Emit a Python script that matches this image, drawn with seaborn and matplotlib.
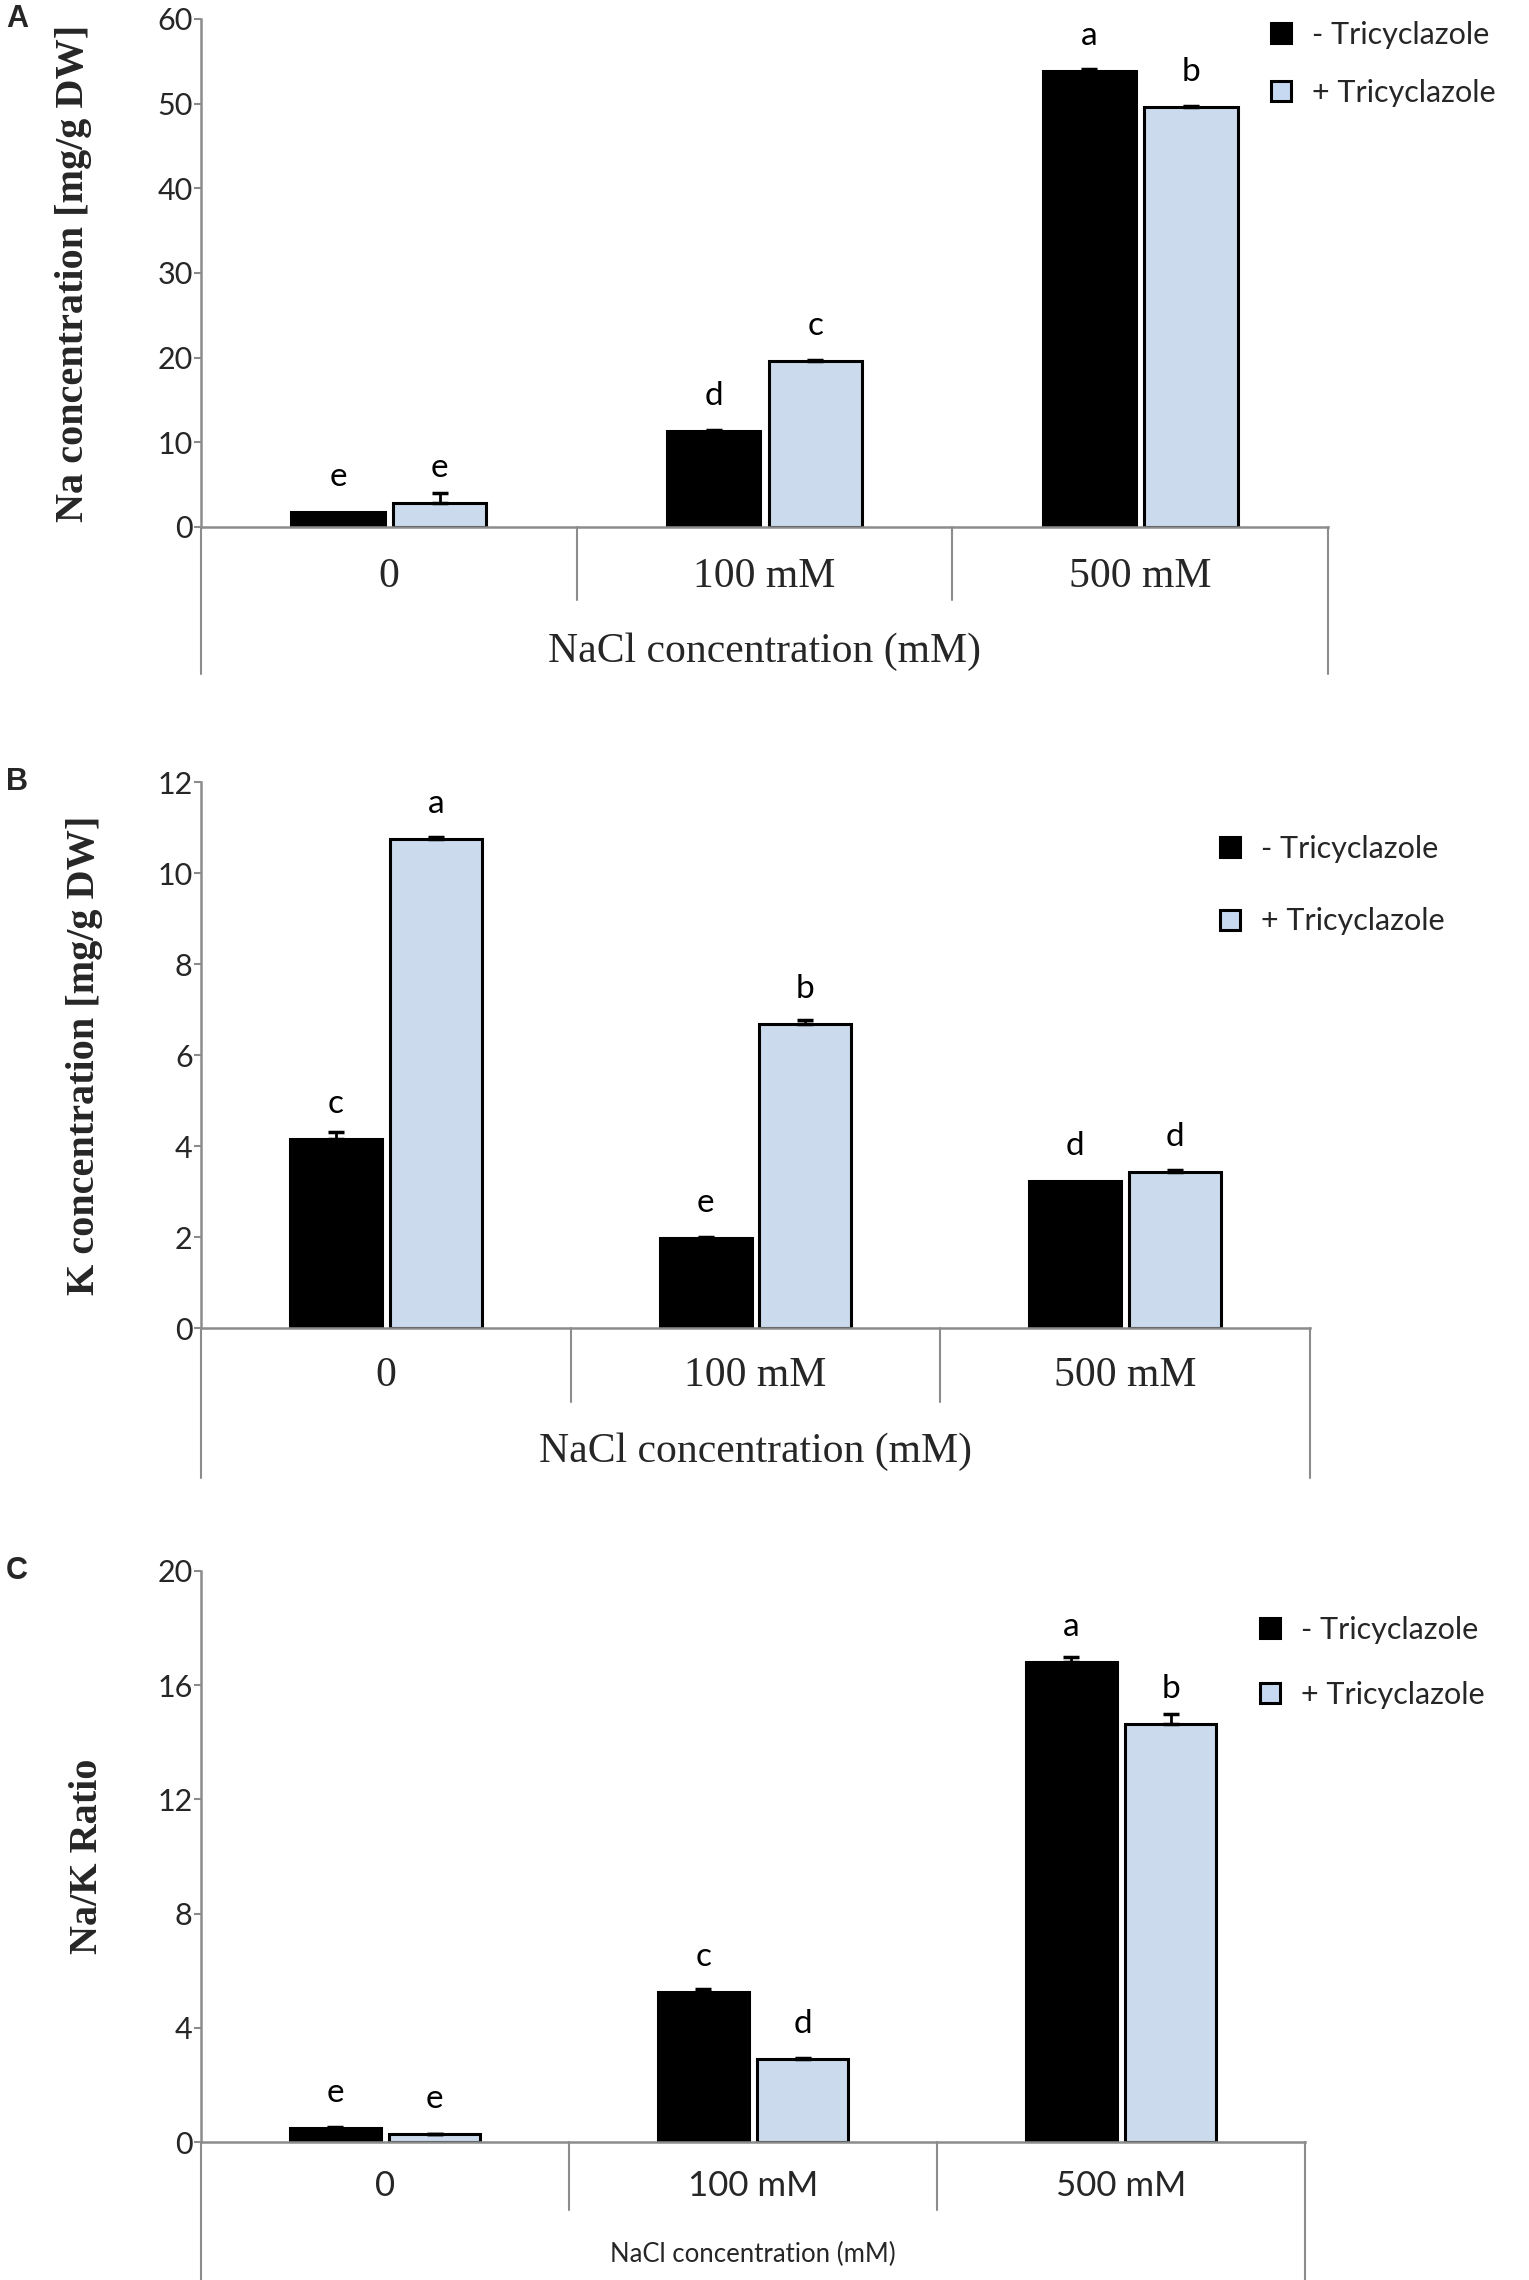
import numpy as np
import pandas as pd
import matplotlib
matplotlib.use("Agg")
import matplotlib.pyplot as plt
from matplotlib.lines import Line2D
import seaborn as sns

# ---- data ----
salt_levels = ["0", "100 mM", "500 mM"]
treatments = ["- Tricyclazole", "+ Tricyclazole"]

na_minus = [1.8, 11.3, 53.8]
na_plus = [2.8, 19.6, 49.6]
na_err_minus = [0.0, 0.1, 0.3]
na_err_plus = [1.2, 0.1, 0.1]
na_letters_minus = ["e", "d", "a"]
na_letters_plus = ["e", "c", "b"]

k_minus = [4.15, 1.98, 3.23]
k_plus = [10.75, 6.69, 3.42]
k_err_minus = [0.15, 0.03, 0.0]
k_err_plus = [0.04, 0.08, 0.06]
k_letters_minus = ["c", "e", "d"]
k_letters_plus = ["a", "b", "d"]

ratio_minus = [0.5, 5.25, 16.8]
ratio_plus = [0.27, 2.9, 14.65]
ratio_err_minus = [0.02, 0.1, 0.2]
ratio_err_plus = [0.02, 0.05, 0.35]
ratio_letters_minus = ["e", "c", "a"]
ratio_letters_plus = ["e", "d", "b"]

BLUE = "#C6D9F1"
GREY = "#8C8C8C"
SANS = ["Lato", "DejaVu Sans"]
SERIF = ["Liberation Serif", "DejaVu Serif"]

W, H = 1529, 2280
sns.set_theme(style="white")
plt.rcParams["font.family"] = SANS
fig = plt.figure(figsize=(W / 100, H / 100), dpi=100)


def make_frame(minus, plus, err_minus, err_plus, let_minus, let_plus):
    rows = []
    for i, lvl in enumerate(salt_levels):
        rows.append([lvl, treatments[0], minus[i], err_minus[i], let_minus[i]])
        rows.append([lvl, treatments[1], plus[i], err_plus[i], let_plus[i]])
    return pd.DataFrame(rows, columns=["salt", "treat", "value", "err", "letter"])


def panel(df, px, ymax, ystep, ylabel, letter, legend_px, leg_space, tick_font, xlab_font):
    # px: left, right, top, zero, sep_bottom, outer_bottom, ticklabel_y, xlabel_y, ylabel_x
    left, right, top, zero, sep_b, out_b, tl_y, xl_y, yl_x = px
    ax = fig.add_axes([left / W, 1 - zero / H, (right - left) / W, (zero - top) / H])
    ah = zero - top
    aw = right - left
    sns.barplot(data=df, x="salt", y="value", hue="treat",
                order=salt_levels, hue_order=treatments,
                palette=["black", BLUE], width=0.54, gap=0.08,
                edgecolor="black", linewidth=2.2, errorbar=None, legend=False, ax=ax)
    # error bars and letters, placed on the bars seaborn drew
    bars = sorted(ax.patches, key=lambda p: p.get_x())
    for p, (_, r) in zip(bars, df.iterrows()):
        xc = p.get_x() + p.get_width() / 2
        if r["err"] > 0:
            ax.errorbar(xc, r["value"], yerr=[[0], [r["err"]]], fmt="none",
                        ecolor="black", elinewidth=2, capsize=6, capthick=2.5, zorder=3)
        ax.annotate(r["letter"], (xc, r["value"]), xytext=(0, 35), textcoords="offset pixels",
                    ha="center", va="center", fontsize=24, family=SANS, color="black")
    ax.set_xlim(-0.5, 2.5)
    ax.set_ylim(0, ymax)
    ax.set_yticks(np.arange(0, ymax + ystep / 2, ystep))
    ax.tick_params(axis="y", direction="out", length=5, width=1.5, color=GREY,
                   labelsize=22, pad=1, left=True)
    for t in ax.get_yticklabels():
        t.set_family(SANS)
    ax.set_xticks(range(3))
    ax.set_xticklabels(salt_levels, fontsize=tick_font[1], family=tick_font[0])
    ax.tick_params(axis="x", length=0, pad=(tl_y - zero) * 0.72)
    for t in ax.get_xticklabels():
        t.set_va("center")
    for s in ["top", "right"]:
        ax.spines[s].set_visible(False)
    for s in ["left", "bottom"]:
        ax.spines[s].set_color(GREY)
        ax.spines[s].set_linewidth(1.8)
    # category box below the axis
    tr = ax.get_xaxis_transform()
    for xs in [0.5, 1.5]:
        ax.add_line(Line2D([xs, xs], [0, -(sep_b - zero) / ah], transform=tr,
                           color=GREY, lw=1.5, clip_on=False))
    for xs in [-0.5, 2.5]:
        ax.add_line(Line2D([xs, xs], [0, -(out_b - zero) / ah], transform=tr,
                           color=GREY, lw=1.5, clip_on=False))
    ax.set_xlabel("NaCl concentration (mM)", fontsize=xlab_font[1], family=xlab_font[0])
    ax.xaxis.set_label_coords(0.5, -(xl_y - zero) / ah)
    ax.xaxis.label.set_va("center")
    ax.set_ylabel(ylabel, fontsize=29, family=SERIF, fontweight="bold")
    ax.yaxis.set_label_coords((yl_x - left) / aw, 0.5)
    ax.yaxis.label.set_va("center")
    fig.text(17 / W, 1 - top / H, letter, fontsize=22, fontweight="bold",
             family=["Liberation Sans", "DejaVu Sans"], ha="center", va="center")
    # legend
    handles = [Line2D([], [], ls="none", marker="s", markersize=14, markerfacecolor=c,
                      markeredgecolor="black", markeredgewidth=2.2) for c in ["black", BLUE]]
    mx, my = legend_px
    fig.legend(handles, treatments, loc="upper left",
               bbox_to_anchor=((mx - 15) / W, 1 - (my - 12) / H),
               frameon=False, handlelength=1.0, handletextpad=0.5,
               borderpad=0, borderaxespad=0, labelspacing=leg_space,
               prop={"family": SANS, "size": 22})
    return ax


df_na = make_frame(na_minus, na_plus, na_err_minus, na_err_plus, na_letters_minus, na_letters_plus)
df_k = make_frame(k_minus, k_plus, k_err_minus, k_err_plus, k_letters_minus, k_letters_plus)
df_r = make_frame(ratio_minus, ratio_plus, ratio_err_minus, ratio_err_plus,
                  ratio_letters_minus, ratio_letters_plus)

panel(df_na, (201, 1328, 19, 527, 600, 674, 577, 652, 73), 60, 10,
      "Na concentration [mg/g DW]", "A", (1281, 33), 0.98, (SERIF, 30), (SERIF, 30))
panel(df_k, (201, 1310, 782, 1328, 1402, 1478, 1376, 1452, 84), 12, 2,
      "K concentration [mg/g DW]", "B", (1230, 847), 1.45, (SERIF, 30), (SERIF, 30))
panel(df_r, (201, 1305, 1571, 2142, 2210, 2280, 2186, 2254, 87), 20, 4,
      "Na/K Ratio", "C", (1270, 1628), 1.2, (SANS, 25), (SANS, 18.5))

fig.savefig("out.png", dpi=100)
